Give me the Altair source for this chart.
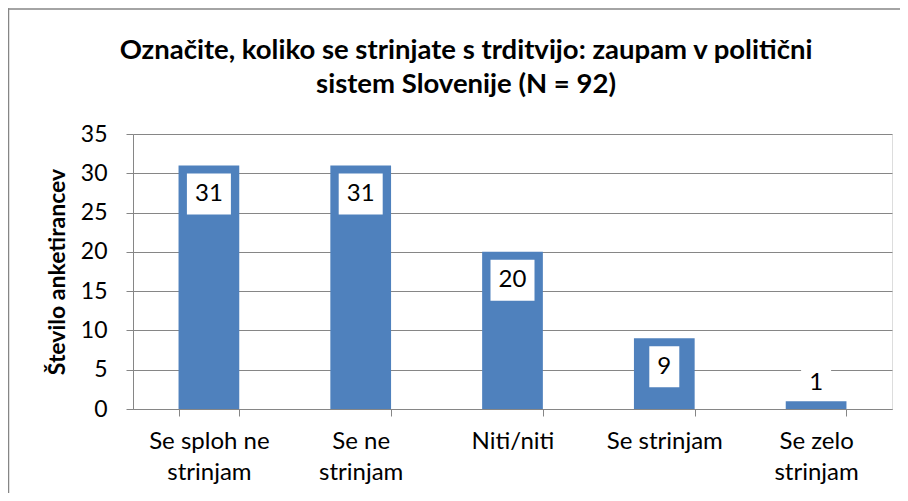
import altair as alt
import pandas as pd

categories = ["Se sploh ne strinjam", "Se ne strinjam", "Niti/niti", "Se strinjam", "Se zelo strinjam"]
counts = [31, 31, 20, 9, 1]
y_ticks = [0, 5, 10, 15, 20, 25, 30, 35]

title_lines = ["Označite, koliko se strinjate s trditvijo: zaupam v politični",
               "sistem Slovenije (N = 92)"]
y_title = "Število anketirancev"

df = pd.DataFrame({"cat": categories, "v": counts})

W, H = 759, 275
YMAX = 35
PX = H / YMAX  # pixels per unit
FONT = "Lato"
GRAY = "#868686"

yscale = alt.Scale(domain=[0, YMAX], nice=False)
y_axis = alt.Axis(values=y_ticks, title=y_title, titleFont=FONT, titleFontSize=23,
                  titleFontWeight="bold", titleColor="black", titleAngle=-90,
                  titleX=-76, titleY=H / 2, titleAlign="center", titleBaseline="middle",
                  labelFont=FONT, labelFontSize=23, labelColor="black", labelPadding=19,
                  labelOverlap=False,
                  tickSize=7, tickColor=GRAY, domainColor=GRAY,
                  grid=True, gridColor=GRAY, gridWidth=1)

x_axis = alt.Axis(
    labelExpr="length(datum.label) > 11 ? [substring(datum.label, 0, lastindexof(datum.label, ' ')), substring(datum.label, lastindexof(datum.label, ' ') + 1)] : datum.label",
    labelAngle=0, labelFont=FONT, labelFontSize=24, labelColor="black",
    labelLineHeight=31, labelPadding=13, labelBaseline="top",
    tickBand="extent", tickSize=7, tickColor=GRAY, domainColor=GRAY,
    grid=False)
xscale = alt.Scale(paddingInner=0.6, paddingOuter=0.3)


def xenc():
    return alt.X("cat:N", sort=categories, title=None, scale=xscale, axis=x_axis)


base = alt.Chart(df)

bars = base.mark_bar(color="#4F81BD").encode(
    x=xenc(),
    y=alt.Y("v:Q", scale=yscale, axis=y_axis, title=y_title),
)

lab = base.transform_calculate(
    inside=f"datum.v * {PX} >= 49",
).transform_calculate(
    center=f"datum.inside ? datum.v - 28.5 / {PX} : datum.v + 18 / {PX}",
    top=f"datum.inside ? datum.v - 8 / {PX} : datum.v + 37 / {PX}",
    bot=f"datum.inside ? datum.v - 49 / {PX} : datum.v + 0.5 / {PX}",
    bw="16 + 14 * length(toString(datum.v))",
)

boxes = lab.mark_bar(color="white").encode(
    x=xenc(),
    y=alt.Y("top:Q", scale=yscale, axis=y_axis, title=y_title),
    y2="bot:Q",
    size=alt.Size("bw:Q", scale=None, legend=None),
)

texts = lab.mark_text(font=FONT, fontSize=24, color="black", baseline="middle").encode(
    x=xenc(),
    y=alt.Y("center:Q", scale=yscale, axis=y_axis, title=y_title),
    text="v:Q",
)

one = alt.Data(values=[{}])

frame_left = alt.Chart(one).mark_rule(color=GRAY, strokeWidth=1.5).encode(
    x=alt.value(-124.5), y=alt.value(-125.75), y2=alt.value(H + 100)
)
frame_top = alt.Chart(one).mark_rule(color=GRAY, strokeWidth=1.5).encode(
    x=alt.value(-125), x2=alt.value(W + 20), y=alt.value(-125)
)

title = alt.Chart(one).mark_text(
    font=FONT, fontSize=27.5, fontWeight="bold", color="black",
    align="center", baseline="alphabetic", lineHeight=34
).encode(
    x=alt.value(466 - 133), y=alt.value(59 - 134), text=alt.value(title_lines)
)

chart = alt.layer(frame_left, frame_top, bars, boxes, texts, title).properties(
    width=W, height=H,
    autosize=alt.AutoSizeParams(type="none"),
    padding={"left": 125, "top": 126, "right": 8, "bottom": 84},
).configure_view(stroke="transparent", strokeWidth=0).configure(background="white")

chart.save("out.html", embed_options={"renderer": "svg", "actions": False})
